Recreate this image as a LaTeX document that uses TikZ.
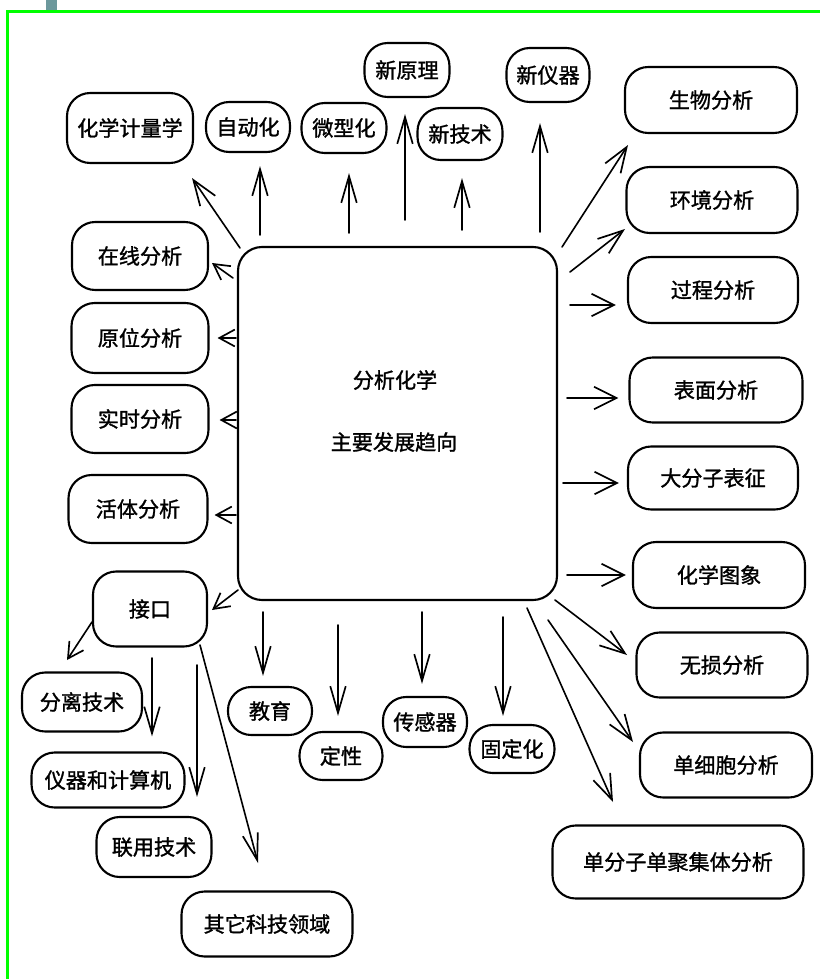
\documentclass[tikz,border=0pt]{standalone}
\usepackage{fontspec}
\setmainfont{Noto Sans CJK SC}[FakeBold=1.3]
\usetikzlibrary{arrows.meta}
\newdimen\px \px=0.025cm
\definecolor{frgreen}{RGB}{0,255,0}
\definecolor{tabteal}{RGB}{108,152,156}
\begin{document}
\begin{tikzpicture}[x=0.025cm,y=-0.025cm,
  bx/.style 2 args={draw, line width=1.5pt, rounded corners=0.58cm,
    minimum width=#1\px, minimum height=#2\px, inner sep=0pt,
    font=\fontsize{15}{18}\selectfont},
  lbl/.style={inner sep=0pt, font=\fontsize{15}{18}\selectfont},
  arrbase/.style={line width=1.15pt, line cap=round},
  arr/.style={arrbase, -{Straight Barb[length=16pt,width=16pt,line width=1.2pt]}},
  arrv/.style={arrbase, -{Straight Barb[length=19pt,width=11pt,line width=1.2pt]}},
  arrd/.style={arrbase, -{Straight Barb[length=18pt,width=13pt,line width=1.2pt]}},
  arrs/.style={arrbase, -{Straight Barb[length=11pt,width=12pt,line width=1.2pt]}}]
\useasboundingbox (0,0) rectangle (820,979);
\fill[tabteal] (46,0) rectangle (57,10);
\draw[frgreen, line width=2.2pt] (7.5,979) -- (7.5,11.5) -- (820,11.5);

% central box
\node[bx={319}{353}, rounded corners=0.6cm] (main) at (397.5,423.5) {};
\node[lbl] (mt1) at (395,380) {分析化学};
\node[lbl] (mt2) at (394,442) {主要发展趋向};

% top
\node[bx={126}{70}] (hx) at (130,128) {化学计量学};
\node[bx={84}{50}] (zd) at (248,127) {自动化};
\node[bx={85}{50}] (wx) at (344,128) {微型化};
\node[bx={85}{54}] (xyl) at (407,70) {新原理};
\node[bx={85}{52}] (xjs) at (460,134) {新技术};
\node[bx={83}{54}] (xyq) at (548,75) {新仪器};
% right
\node[bx={172}{66}] (sw) at (711,100) {生物分析};
\node[bx={171}{66}] (hj) at (712,200) {环境分析};
\node[bx={170}{66}] (gc) at (713,290) {过程分析};
\node[bx={173}{65}] (bm) at (716,390) {表面分析};
\node[bx={170}{63}] (dfz) at (713,478) {大分子表征};
\node[bx={172}{66}] (hxtx) at (719,575) {化学图象};
\node[bx={171}{65}] (ws) at (722,665) {无损分析};
\node[bx={172}{65}] (dxb) at (726,765) {单细胞分析};
\node[bx={251}{73}] (dfzj) at (678,862) {单分子单聚集体分析};
% bottom
\node[bx={84}{50}] (cgq) at (425,722) {传感器};
\node[bx={85}{48}] (gdh) at (512,749) {固定化};
\node[bx={84}{48}] (jy) at (270,711) {教育};
\node[bx={83}{48}] (dx) at (341,756) {定性};
% left
\node[bx={136}{68}] (zx) at (140,256) {在线分析};
\node[bx={137}{70}] (yw) at (140,338) {原位分析};
\node[bx={137}{68}] (ss) at (140,419) {实时分析};
\node[bx={139}{68}] (ht) at (138,509) {活体分析};
\node[bx={114}{75}] (jk) at (150,609) {接口};
\node[bx={120}{59}] (flj) at (82,702) {分离技术};
\node[bx={153}{55}] (yq) at (108,780) {仪器和计算机};
\node[bx={115}{60}] (ly) at (154,847) {联用技术};
\node[bx={171}{65}] (qt) at (267,924) {其它科技领域};

% arrow start / free-end coordinates
\coordinate (s1) at (240,248); \coordinate (e1) at (192,178);
\coordinate (s2) at (260,235);
\coordinate (s3) at (349,233);
\coordinate (s4) at (405,220);
\coordinate (s5) at (462,230);
\coordinate (s6) at (540,232);
\coordinate (s7) at (562,247); \coordinate (e7) at (628,145);
\coordinate (s8) at (570,272); \coordinate (e8) at (625,229);
\coordinate (s9) at (570,305);
\coordinate (s10) at (567,398);
\coordinate (s11) at (563,483);
\coordinate (s12) at (567,575);
\coordinate (s13) at (555,600); \coordinate (e13) at (627,655);
\coordinate (s14) at (548,620); \coordinate (e14) at (633,742);
\coordinate (s15) at (527,608); \coordinate (e15) at (613,802);
\coordinate (s16) at (422,612);
\coordinate (s17) at (503,617);
\coordinate (s18) at (263,612);
\coordinate (s19) at (338,625);
\coordinate (s20) at (238,590); \coordinate (e20) at (212,610);
\coordinate (s21) at (92,622); \coordinate (e21) at (67,660);
\coordinate (s22) at (152,658);
\coordinate (s23) at (197,665);
\coordinate (s24) at (200,645); \coordinate (e24) at (258,863);
\coordinate (s25) at (233,278); \coordinate (e25) at (212,263);
\coordinate (s26) at (236,338);
\coordinate (s27) at (236,420);
\coordinate (s28) at (236,515);

% arrows
\draw[arrd] (s1) -- (e1);
\draw[arrv, shorten >=13\px] (s2) -- (s2 |- zd.south);
\draw[arrv, shorten >=19\px] (s3) -- (s3 |- wx.south);
\draw[arrv, shorten >=16\px] (s4) -- (s4 |- xyl.south);
\draw[arrv, shorten >=17\px] (s5) -- (s5 |- xjs.south);
\draw[arrv, shorten >=20\px] (s6) -- (s6 |- xyq.south);
\draw[arrd] (s7) -- (e7);
\draw[arrd] (s8) -- (e8);
\draw[arr, shorten >=11\px] (s9) -- (s9 -| gc.west);
\draw[arr, shorten >=10\px] (s10) -- (s10 -| bm.west);
\draw[arr, shorten >=8\px] (s11) -- (s11 -| dfz.west);
\draw[arr, shorten >=6\px] (s12) -- (s12 -| hxtx.west);
\draw[arrd] (s13) -- (e13);
\draw[arrd] (s14) -- (e14);
\draw[arrd] (s15) -- (e15);
\draw[arrv, shorten >=12\px] (s16) -- (s16 |- cgq.north);
\draw[arrv, shorten >=8\px] (s17) -- (s17 |- gdh.north);
\draw[arrv, shorten >=10\px] (s18) -- (s18 |- jy.north);
\draw[arrv, shorten >=15\px] (s19) -- (s19 |- dx.north);
\draw[arrs] (s20) -- (e20);
\draw[arrs] (s21) -- (e21);
\draw[arrv, shorten >=15\px] (s22) -- (s22 |- yq.north);
\draw[arrv, shorten >=19\px] (s23) -- (s23 |- ly.north);
\draw[arrv] (s24) -- (e24);
\draw[arrs] (s25) -- (e25);
\draw[arrs, shorten >=8\px] (s26) -- (s26 -| yw.east);
\draw[arrs, shorten >=10\px] (s27) -- (s27 -| ss.east);
\draw[arrs, shorten >=6\px] (s28) -- (s28 -| ht.east);
\end{tikzpicture}
\end{document}
